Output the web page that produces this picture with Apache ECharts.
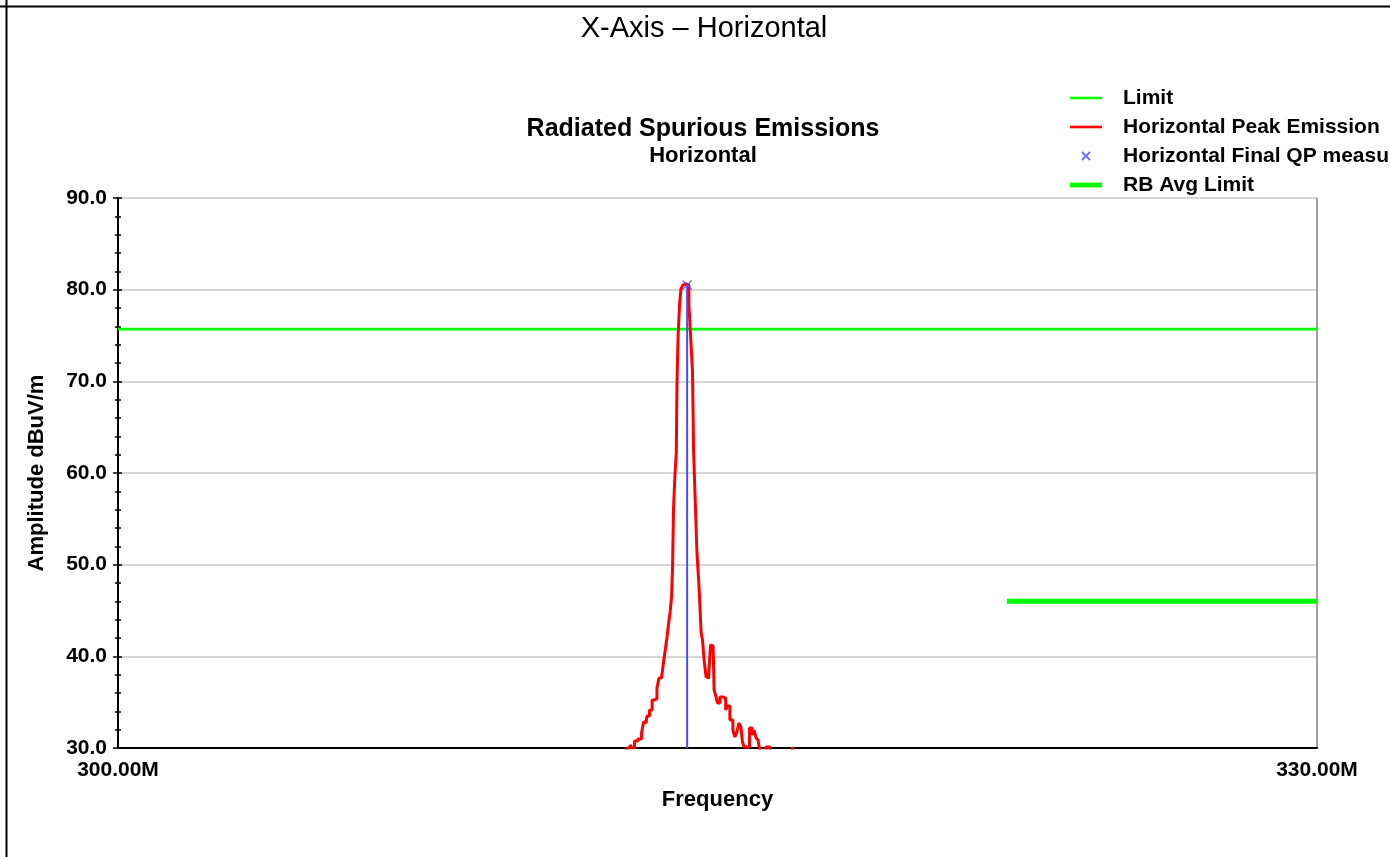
<!DOCTYPE html>
<html>
<head>
<meta charset="utf-8">
<script src="https://cdn.jsdelivr.net/npm/echarts@6/dist/echarts.min.js"></script>
<style>
html,body{margin:0;padding:0;background:#fff;}
#chart{width:1390px;height:857px;}
</style>
</head>
<body>
<div id="chart"></div>
<script>
// ---- data ----
const xTicks = [300, 330];
const yTicks = [30, 40, 50, 60, 70, 80, 90];
const limitFreq = [300, 330];
const limitLevel = [75.7, 75.7];
const rbAvgFreq = [322.24, 330];
const rbAvgLevel = [46.0, 46.0];
const qpFreq = [314.24];
const qpLevel = [80.5];
const peakFreq = [312.71,312.79,312.84,312.89,312.96,313.06,313.14,313.16,313.21,313.26,313.34,313.39,313.46,313.51,313.56,313.64,313.66,313.71,313.76,313.79,313.84,313.86,313.89,313.91,313.96,313.98,313.99,314.04,314.06,314.11,314.16,314.21,314.26,314.31,314.36,314.39,314.41,314.46,314.51,314.56,314.57,314.61,314.64,314.69,314.74,314.81,314.84,314.89,314.94,314.99,315.01,315.11,315.18,315.23,315.26,315.36,315.41,315.46,315.51,315.56,315.61,315.64,315.69,315.76,315.84,315.89,315.94,315.99,316.04,316.06,316.11,316.31,316.36,316.86,316.89,316.94];
const peakLevel = [29.5,30.0,30.33,30.0,30.76,30.98,31.64,32.84,32.73,33.49,34.15,35.24,35.35,36.55,37.64,37.85,39.38,40.47,42.00,43.53,44.84,46.47,49.64,56.18,59.78,62.29,69.60,75.05,78.33,80.07,80.51,80.62,80.51,78.33,74.29,71.02,62.73,57.93,51.38,47.78,45.05,42.55,41.78,39.60,37.75,37.53,41.24,41.13,36.33,35.56,34.91,35.56,35.45,34.15,34.58,33.05,31.96,31.20,31.75,32.73,32.29,30.65,30.11,30.11,32.18,31.42,31.96,31.09,30.87,29.9,29.5,30.1,29.5,29.5,30.1,29.5];

const zip = (a, b) => a.map((v, i) => [v, b[i]]);
const FONT = '"Liberation Sans", Arial, sans-serif';
// legend icons inside a 32x14 box (invisible corner points fix the box)
const thinLine = 'path://M0,0L0,0M0,5.7L32,5.7L32,8.3L0,8.3ZM32,14L32,14';
const thickLine = 'path://M0,0L0,0M0,4.6L32,4.6L32,9.4L0,9.4ZM32,14L32,14';
const smallCross = 'path://M0,0L0,0M12,3L20,11M20,3L12,11M32,14L32,14';

const chart = echarts.init(document.getElementById('chart'));
chart.setOption({
  animation: false,
  backgroundColor: '#ffffff',
  title: [
    { text: 'X-Axis – Horizontal', left: 699, top: 9, textAlign: 'center',
      textStyle: { fontFamily: FONT, fontSize: 29, fontWeight: 'normal', color: '#000' } },
    { text: 'Radiated Spurious Emissions', subtext: 'Horizontal', left: 698, top: 112, textAlign: 'center', itemGap: 3,
      textStyle: { fontFamily: FONT, fontSize: 25, fontWeight: 'bold', color: '#000' },
      subtextStyle: { fontFamily: FONT, fontSize: 22, fontWeight: 'bold', color: '#000' } }
  ],
  graphic: [
    { type: 'line', shape: { x1: 0, y1: 6.5, x2: 1390, y2: 6.5 }, style: { stroke: '#000', lineWidth: 2 } },
    { type: 'line', shape: { x1: 6.5, y1: 0, x2: 6.5, y2: 857 }, style: { stroke: '#000', lineWidth: 2 } }
  ],
  legend: {
    orient: 'vertical', left: 1064, top: 82, itemWidth: 32, itemHeight: 14, itemGap: 7,
    textStyle: { fontFamily: FONT, fontSize: 21, fontWeight: 'bold', color: '#000', lineHeight: 22, padding: [0, 0, 0, 16] },
    data: [
      { name: 'Limit', icon: thinLine },
      { name: 'Horizontal Peak Emission', icon: thinLine },
      { name: 'Horizontal Final QP measurement', icon: smallCross },
      { name: 'RB Avg Limit', icon: thickLine }
    ]
  },
  grid: { left: 118, right: 73, top: 198, bottom: 109, containLabel: false },
  xAxis: {
    type: 'value', min: xTicks[0], max: xTicks[xTicks.length - 1], interval: xTicks[1] - xTicks[0],
    name: 'Frequency', nameLocation: 'middle', nameGap: 41,
    nameTextStyle: { fontFamily: FONT, fontSize: 22, fontWeight: 'bold', color: '#000' },
    axisLine: { lineStyle: { color: '#000', width: 2 } },
    axisTick: { show: false },
    axisLabel: { fontFamily: FONT, fontSize: 21, fontWeight: 'bold', color: '#000', margin: 12,
      formatter: v => v.toFixed(2) + 'M' },
    splitLine: { show: true, lineStyle: { color: '#a0a0a0', width: 2 } }
  },
  yAxis: [{
    type: 'value', min: yTicks[0], max: yTicks[yTicks.length - 1], interval: yTicks[1] - yTicks[0],
    name: 'Amplitude dBuV/m', nameLocation: 'middle', nameGap: 70, nameRotate: 90,
    nameTextStyle: { fontFamily: FONT, fontSize: 22, fontWeight: 'bold', color: '#000' },
    axisLine: { lineStyle: { color: '#000', width: 2 } },
    axisTick: { show: true, length: 5, lineStyle: { color: '#000', width: 1.5 } },
    minorTick: { show: true, splitNumber: 5, length: 3, lineStyle: { color: '#000', width: 1.5 } },
    axisLabel: { fontFamily: FONT, fontSize: 21, fontWeight: 'bold', color: '#000', margin: 11,
      formatter: v => v.toFixed(1) },
    splitLine: { show: true, lineStyle: { color: '#c8c8c8', width: 1.5 } }
  }, {
    type: 'value', min: yTicks[0], max: yTicks[yTicks.length - 1], interval: yTicks[1] - yTicks[0], position: 'left',
    axisLine: { show: false },
    axisTick: { show: true, inside: true, length: 4, lineStyle: { color: '#000', width: 1.5 } },
    minorTick: { show: true, splitNumber: 5, length: 3, lineStyle: { color: '#000', width: 1.5 } },
    axisLabel: { show: false }, splitLine: { show: false }
  }],
  series: [
    { name: 'Limit', type: 'line', data: zip(limitFreq, limitLevel), symbol: 'none', z: 3,
      lineStyle: { color: '#00ff00', width: 2.8 }, itemStyle: { color: '#00ff00' } },
    { name: 'Horizontal Peak Emission', type: 'line', data: zip(peakFreq, peakLevel), symbol: 'none', z: 4,
      step: 'middle', lineStyle: { color: '#ff0000', width: 3 }, itemStyle: { color: '#ff0000' } },
    { name: 'QP stem', type: 'line', data: [[qpFreq[0], yTicks[0]], [qpFreq[0], qpLevel[0]]], symbol: 'none', z: 5,
      lineStyle: { color: '#4a4aff', width: 2 }, silent: true },
    { name: 'Horizontal Final QP measurement', type: 'scatter', data: zip(qpFreq, qpLevel), z: 6,
      symbol: 'path://M0,0L10,10M10,0L0,10', symbolSize: 9,
      itemStyle: { color: 'rgba(0,0,0,0)', borderColor: '#4a4aff', borderWidth: 1.3 } },
    { name: 'RB Avg Limit', type: 'line', data: zip(rbAvgFreq, rbAvgLevel), symbol: 'none', z: 3,
      lineStyle: { color: '#00ff00', width: 5 }, itemStyle: { color: '#00ff00' } }
  ]
});
</script>
</body>
</html>
